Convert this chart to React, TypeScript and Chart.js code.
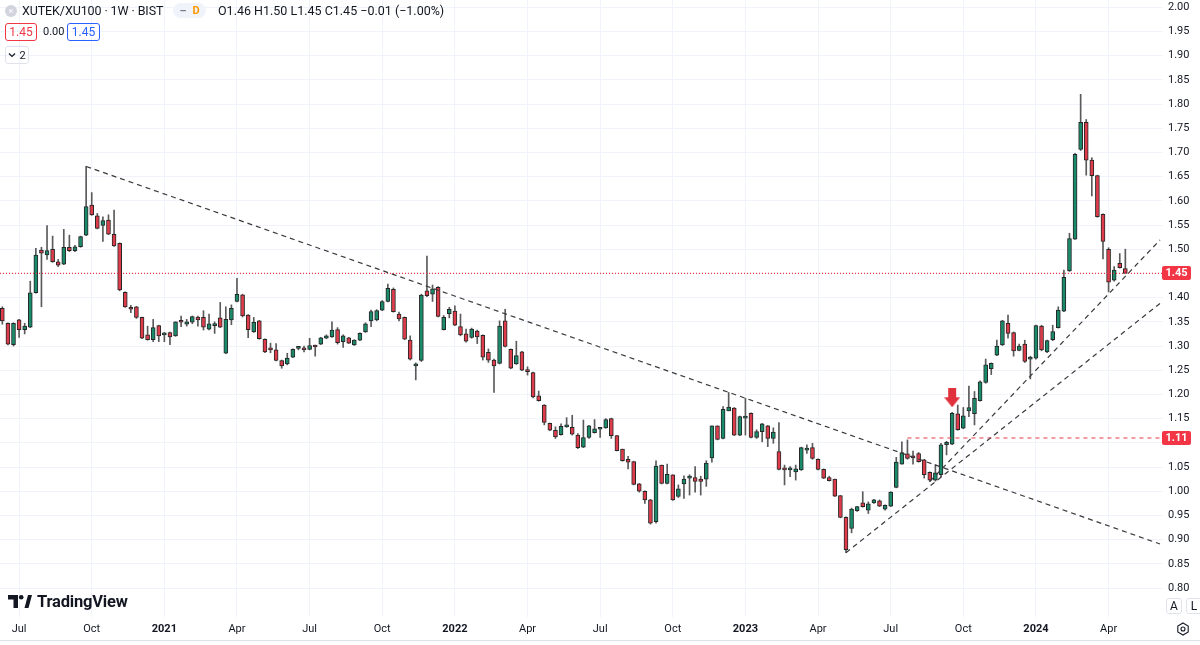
import React, { useEffect, useRef } from 'react';
import { Chart, registerables } from 'chart.js';

Chart.register(...registerables);

// ---- weekly candles (XUTEK/XU100, 1W), week index 1 = 15 Jun 2020 ----
const FIRST_WEEK = 1;
const OPEN = [
  1.378, 1.347, 1.303, 1.354, 1.334, 1.339, 1.410, 1.498, 1.488, 1.500,
  1.474, 1.469, 1.504, 1.497, 1.505, 1.529, 1.591, 1.569, 1.549, 1.560,
  1.531, 1.512, 1.411, 1.380, 1.381, 1.359, 1.323, 1.313, 1.342, 1.323,
  1.328, 1.321, 1.352, 1.345, 1.349, 1.360, 1.359, 1.335, 1.342, 1.358,
  1.285, 1.354, 1.392, 1.406, 1.364, 1.329, 1.352, 1.314, 1.294, 1.292,
  1.270, 1.263, 1.277, 1.295, 1.294, 1.293, 1.301, 1.304, 1.316, 1.319,
  1.334, 1.309, 1.317, 1.302, 1.312, 1.329, 1.352, 1.354, 1.374, 1.392,
  1.417, 1.366, 1.359, 1.312, 1.259, 1.270, 1.414, 1.407, 1.421, 1.334,
  1.367, 1.372, 1.340, 1.325, 1.318, 1.331, 1.322, 1.287, 1.271, 1.264,
  1.352, 1.293, 1.263, 1.288, 1.249, 1.245, 1.197, 1.178, 1.140, 1.126,
  1.117, 1.133, 1.132, 1.116, 1.091, 1.111, 1.121, 1.128, 1.131, 1.150,
  1.115, 1.087, 1.066, 1.061, 1.015, 1.000, 0.982, 0.937, 1.054, 1.016,
  1.034, 0.989, 1.015, 1.027, 1.028, 1.025, 1.025, 1.069, 1.135, 1.109,
  1.166, 1.172, 1.116, 1.151, 1.161, 1.111, 1.123, 1.135, 1.109, 1.082,
  1.047, 1.044, 1.040, 1.044, 1.085, 1.090, 1.066, 1.045, 1.028, 1.025,
  0.991, 0.946, 0.923, 0.960, 0.976, 0.961, 0.976, 0.980, 0.963, 0.969,
  1.008, 1.056, 1.077, 1.071, 1.078, 1.065, 1.039, 1.023, 1.034, 1.096,
  1.097, 1.160, 1.130, 1.166, 1.160, 1.187, 1.225, 1.253, 1.281, 1.302,
  1.347, 1.328, 1.291, 1.304, 1.273, 1.275, 1.341, 1.288, 1.313, 1.338,
  1.372, 1.455, 1.521, 1.706, 1.762, 1.684, 1.652, 1.572, 1.500, 1.436,
  1.471, 1.460,
];
const HIGH = [
  1.381, 1.348, 1.348, 1.355, 1.347, 1.434, 1.502, 1.504, 1.549, 1.527,
  1.479, 1.541, 1.529, 1.508, 1.527, 1.671, 1.617, 1.574, 1.567, 1.571,
  1.581, 1.513, 1.412, 1.384, 1.382, 1.360, 1.341, 1.355, 1.343, 1.328,
  1.329, 1.350, 1.362, 1.355, 1.362, 1.362, 1.373, 1.366, 1.350, 1.390,
  1.381, 1.385, 1.440, 1.407, 1.365, 1.359, 1.353, 1.315, 1.306, 1.305,
  1.271, 1.285, 1.294, 1.298, 1.300, 1.316, 1.302, 1.318, 1.323, 1.350,
  1.338, 1.323, 1.318, 1.313, 1.327, 1.348, 1.374, 1.375, 1.394, 1.428,
  1.420, 1.370, 1.360, 1.321, 1.265, 1.407, 1.486, 1.426, 1.423, 1.363,
  1.380, 1.383, 1.366, 1.335, 1.337, 1.333, 1.323, 1.294, 1.273, 1.352,
  1.376, 1.294, 1.310, 1.289, 1.257, 1.246, 1.207, 1.179, 1.141, 1.133,
  1.139, 1.152, 1.157, 1.119, 1.147, 1.136, 1.148, 1.131, 1.150, 1.151,
  1.115, 1.087, 1.072, 1.062, 1.016, 1.001, 0.983, 1.063, 1.054, 1.056,
  1.034, 1.013, 1.032, 1.034, 1.051, 1.031, 1.063, 1.135, 1.135, 1.175,
  1.204, 1.173, 1.155, 1.192, 1.162, 1.127, 1.140, 1.136, 1.131, 1.142,
  1.054, 1.051, 1.054, 1.091, 1.096, 1.099, 1.067, 1.046, 1.031, 1.025,
  0.991, 0.947, 0.965, 0.969, 0.999, 0.978, 0.983, 0.982, 0.972, 0.999,
  1.070, 1.102, 1.106, 1.083, 1.080, 1.066, 1.040, 1.055, 1.099, 1.103,
  1.163, 1.178, 1.173, 1.217, 1.206, 1.228, 1.273, 1.265, 1.312, 1.353,
  1.364, 1.329, 1.304, 1.312, 1.279, 1.343, 1.343, 1.312, 1.343, 1.381,
  1.457, 1.533, 1.698, 1.820, 1.768, 1.689, 1.653, 1.573, 1.503, 1.464,
  1.491, 1.500,
];
const LOW = [
  1.345, 1.302, 1.300, 1.318, 1.325, 1.338, 1.409, 1.381, 1.479, 1.473,
  1.464, 1.468, 1.495, 1.495, 1.504, 1.528, 1.570, 1.542, 1.516, 1.530,
  1.506, 1.414, 1.380, 1.369, 1.357, 1.315, 1.312, 1.309, 1.309, 1.309,
  1.303, 1.320, 1.340, 1.341, 1.346, 1.341, 1.333, 1.333, 1.326, 1.338,
  1.284, 1.344, 1.391, 1.360, 1.317, 1.328, 1.314, 1.286, 1.286, 1.269,
  1.254, 1.261, 1.276, 1.292, 1.288, 1.292, 1.279, 1.303, 1.315, 1.318,
  1.304, 1.297, 1.305, 1.301, 1.311, 1.328, 1.340, 1.352, 1.373, 1.391,
  1.370, 1.352, 1.313, 1.271, 1.230, 1.268, 1.402, 1.392, 1.360, 1.333,
  1.358, 1.342, 1.321, 1.308, 1.316, 1.305, 1.271, 1.266, 1.204, 1.263,
  1.298, 1.253, 1.262, 1.249, 1.240, 1.193, 1.186, 1.137, 1.125, 1.109,
  1.116, 1.132, 1.116, 1.088, 1.090, 1.109, 1.120, 1.111, 1.130, 1.109,
  1.083, 1.062, 1.046, 1.013, 0.998, 0.975, 0.932, 0.934, 1.015, 1.015,
  0.981, 0.987, 0.985, 0.992, 0.998, 0.992, 1.010, 1.060, 1.106, 1.108,
  1.166, 1.115, 1.115, 1.116, 1.110, 1.109, 1.102, 1.092, 1.099, 1.044,
  1.013, 1.030, 1.023, 1.043, 1.078, 1.066, 1.044, 1.026, 1.021, 0.989,
  0.945, 0.873, 0.914, 0.958, 0.967, 0.954, 0.975, 0.968, 0.961, 0.968,
  1.007, 1.056, 1.066, 1.056, 1.060, 1.027, 1.020, 1.021, 1.030, 1.075,
  1.096, 1.126, 1.129, 1.154, 1.137, 1.186, 1.223, 1.241, 1.280, 1.301,
  1.316, 1.279, 1.290, 1.266, 1.232, 1.273, 1.290, 1.286, 1.311, 1.337,
  1.371, 1.454, 1.520, 1.704, 1.653, 1.610, 1.566, 1.480, 1.412, 1.434,
  1.461, 1.450,
];
const CLOSE = [
  1.352, 1.304, 1.347, 1.334, 1.341, 1.410, 1.488, 1.492, 1.497, 1.474,
  1.467, 1.504, 1.497, 1.505, 1.526, 1.588, 1.571, 1.543, 1.559, 1.531,
  1.507, 1.416, 1.381, 1.376, 1.359, 1.316, 1.313, 1.338, 1.321, 1.327,
  1.319, 1.350, 1.349, 1.350, 1.361, 1.354, 1.339, 1.346, 1.343, 1.339,
  1.355, 1.378, 1.407, 1.362, 1.334, 1.349, 1.315, 1.288, 1.292, 1.270,
  1.259, 1.275, 1.293, 1.297, 1.292, 1.301, 1.298, 1.317, 1.321, 1.333,
  1.307, 1.321, 1.306, 1.312, 1.326, 1.346, 1.371, 1.373, 1.392, 1.419,
  1.371, 1.356, 1.314, 1.273, 1.263, 1.405, 1.404, 1.418, 1.361, 1.359,
  1.376, 1.343, 1.323, 1.310, 1.335, 1.319, 1.277, 1.271, 1.259, 1.341,
  1.299, 1.254, 1.280, 1.250, 1.247, 1.195, 1.187, 1.142, 1.126, 1.112,
  1.134, 1.135, 1.118, 1.090, 1.111, 1.135, 1.129, 1.130, 1.148, 1.115,
  1.084, 1.063, 1.060, 1.014, 1.000, 0.982, 0.934, 1.052, 1.016, 1.035,
  0.982, 1.005, 1.025, 1.028, 1.020, 1.020, 1.058, 1.135, 1.107, 1.169,
  1.174, 1.116, 1.154, 1.153, 1.111, 1.123, 1.139, 1.109, 1.122, 1.045,
  1.044, 1.046, 1.046, 1.090, 1.089, 1.068, 1.045, 1.027, 1.022, 0.990,
  0.946, 0.879, 0.963, 0.968, 0.968, 0.974, 0.982, 0.969, 0.971, 0.998,
  1.060, 1.080, 1.068, 1.069, 1.061, 1.034, 1.023, 1.038, 1.096, 1.101,
  1.161, 1.127, 1.156, 1.173, 1.192, 1.226, 1.261, 1.264, 1.300, 1.352,
  1.326, 1.290, 1.300, 1.268, 1.277, 1.342, 1.292, 1.311, 1.330, 1.374,
  1.442, 1.522, 1.696, 1.762, 1.684, 1.652, 1.567, 1.516, 1.432, 1.457,
  1.462, 1.450,
];

// ---- axes ----
const X_TICK_WEEKS = [4, 17, 30, 43, 56, 69, 82, 95, 108, 121, 134, 147, 160, 173, 186, 199];
const X_TICK_LABELS = ['Jul', 'Oct', '2021', 'Apr', 'Jul', 'Oct', '2022', 'Apr', 'Jul', 'Oct', '2023', 'Apr', 'Jul', 'Oct', '2024', 'Apr'];
const Y_TICKS = [
  0.8, 0.85, 0.9, 0.95, 1.0, 1.05, 1.1, 1.15, 1.2, 1.25, 1.3, 1.35, 1.4,
  1.45, 1.5, 1.55, 1.6, 1.65, 1.7, 1.75, 1.8, 1.85, 1.9, 1.95, 2.0,
];
const X_MIN = 0.583;
const X_MAX = 208.74;
const Y_MIN = 0.7401;
const Y_MAX = 2.0149;

// ---- drawings ----
const LAST_PRICE = 1.45;
const LEVEL_PRICE = 1.11;
const LEVEL_START_WEEK = 163;
const TREND_DOWN = [{ x: 16, y: 1.671 }, { x: 208.2, y: 0.891 }];
const TREND_UP_STEEP = [{ x: 167, y: 1.02 }, { x: 208.2, y: 1.519 }];
const TREND_UP_SLOW = [{ x: 152, y: 0.873 }, { x: 208.2, y: 1.388 }];
const ARROW_POINT = [{ x: 171, y: 1.193 }];

// ---- styles ----
const UP = '#1a8a6b';
const DOWN = '#de3c4b';
const CANDLE_BORDER = '#262626';
const WICK = '#5a5a5a';
const RED = '#f23645';
const GRID = '#f0f3fa';
const TEXT = '#131722';
const FONT = "Roboto, 'Liberation Sans', Arial, sans-serif";

function makeArrow(): HTMLCanvasElement {
  const c = document.createElement('canvas');
  c.width = 16;
  c.height = 19;
  const g = c.getContext('2d')!;
  g.fillStyle = '#e0323c';
  g.fillRect(4, 0, 8, 10);
  g.beginPath();
  g.moveTo(0, 9);
  g.lineTo(16, 9);
  g.lineTo(8, 19);
  g.closePath();
  g.fill();
  return c;
}

const priceLabels = {
  id: 'priceLabels',
  afterDraw(chart: any) {
    const { ctx, chartArea, scales } = chart;
    const y = scales.y;
    [LAST_PRICE, LEVEL_PRICE].forEach((v) => {
      const py = Math.round(y.getPixelForValue(v));
      ctx.save();
      ctx.fillStyle = RED;
      ctx.beginPath();
      const x0 = chartArea.right - 1;
      (ctx as any).roundRect ? (ctx as any).roundRect(x0, py - 7, 29, 14, 2) : ctx.rect(x0, py - 7, 29, 14);
      ctx.fill();
      ctx.fillStyle = '#ffffff';
      ctx.font = `bold 11px ${FONT}`;
      ctx.textBaseline = 'middle';
      ctx.textAlign = 'center';
      ctx.fillText(v.toFixed(2), x0 + 14.5, py + 0.5);
      ctx.restore();
    });
  },
};

function CandleChart() {
  const ref = useRef<HTMLCanvasElement | null>(null);
  useEffect(() => {
    if (!ref.current) return;
    const weeks = OPEN.map((_, i) => FIRST_WEEK + i);
    const arrow = makeArrow();
    const chart = new Chart(ref.current, {
      type: 'bar',
      data: {
        datasets: [
          {
            type: 'bar',
            data: weeks.map((w, i) => ({ x: w, y: [LOW[i], HIGH[i]] })) as any,
            backgroundColor: WICK,
            borderWidth: 0,
            barThickness: 1,
            grouped: false,
            order: 5,
          } as any,
          {
            type: 'bar',
            data: weeks.map((w, i) => ({ x: w, y: [OPEN[i], CLOSE[i]] })) as any,
            backgroundColor: weeks.map((_, i) => (CLOSE[i] >= OPEN[i] ? UP : DOWN)),
            borderColor: CANDLE_BORDER,
            borderWidth: 1,
            borderSkipped: false,
            barThickness: 4,
            minBarLength: 2,
            grouped: false,
            order: 4,
          } as any,
          {
            type: 'line',
            data: [{ x: X_MIN, y: LAST_PRICE }, { x: X_MAX, y: LAST_PRICE }],
            borderColor: RED,
            backgroundColor: RED,
            borderWidth: 1.2,
            borderDash: [1, 2],
            pointRadius: 0,
            fill: false,
            order: 3,
          } as any,
          {
            type: 'line',
            data: [{ x: LEVEL_START_WEEK, y: LEVEL_PRICE }, { x: X_MAX, y: LEVEL_PRICE }],
            borderColor: RED,
            backgroundColor: RED,
            borderWidth: 1,
            borderDash: [4, 4],
            pointRadius: 0,
            fill: false,
            order: 3,
          } as any,
          ...[TREND_DOWN, TREND_UP_STEEP, TREND_UP_SLOW].map((pts) => ({
            type: 'line',
            data: pts,
            borderColor: '#3a3a3a',
            borderWidth: 1.2,
            borderDash: [5, 4],
            pointRadius: 0,
            fill: false,
            order: 2,
          })) as any,
          {
            type: 'scatter',
            data: ARROW_POINT,
            pointStyle: arrow,
            pointRadius: 8,
            order: 1,
          } as any,
        ],
      },
      options: {
        animation: false,
        responsive: false,
        maintainAspectRatio: false,
        layout: { padding: 0, autoPadding: false },
        plugins: { legend: { display: false }, tooltip: { enabled: false } },
        scales: {
          x: {
            type: 'linear',
            min: X_MIN,
            max: X_MAX,
            offset: false,
            grid: { color: GRID, drawTicks: false, offset: false },
            border: { display: false },
            afterBuildTicks: (s: any) => {
              s.ticks = X_TICK_WEEKS.map((v) => ({ value: v }));
            },
            afterFit: (s: any) => {
              s.height = 28;
              s.paddingLeft = 0;
              s.paddingRight = 0;
              s.paddingTop = 0;
              s.paddingBottom = 0;
            },
            ticks: {
              autoSkip: false,
              maxRotation: 0,
              minRotation: 0,
              padding: 6,
              color: TEXT,
              font: (c: any) => ({
                family: FONT,
                size: 11,
                weight: /^\d{4}$/.test(X_TICK_LABELS[c.index] || '') ? 'bold' : 'normal',
              }),
              callback: (_v: any, i: number) => X_TICK_LABELS[i],
            },
          } as any,
          y: {
            type: 'linear',
            position: 'right',
            min: Y_MIN,
            max: Y_MAX,
            grid: { color: GRID, drawTicks: false },
            border: { display: false },
            afterBuildTicks: (s: any) => {
              s.ticks = Y_TICKS.map((v) => ({ value: v }));
            },
            afterFit: (s: any) => {
              s.width = 37;
              s.paddingLeft = 0;
              s.paddingRight = 0;
              s.paddingTop = 0;
              s.paddingBottom = 0;
            },
            ticks: {
              padding: 5,
              color: TEXT,
              font: { family: FONT, size: 11 },
              callback: (v: any) => {
                const n = Number(v);
                if (Math.abs(n - LAST_PRICE) < 0.02 || Math.abs(n - LEVEL_PRICE) < 0.02) return '';
                return n.toFixed(2);
              },
            },
          } as any,
        },
      },
      plugins: [priceLabels],
    });
    return () => chart.destroy();
  }, []);
  return <canvas ref={ref} width={1200} height={645} style={{ position: 'absolute', left: 0, top: 0 }} />;
}

const box = (extra: React.CSSProperties): React.CSSProperties => ({
  position: 'absolute',
  boxSizing: 'border-box',
  borderRadius: 3,
  display: 'flex',
  alignItems: 'center',
  justifyContent: 'center',
  fontSize: 12,
  ...extra,
});

export default function App() {
  useEffect(() => {
    document.body.style.margin = '0';
  }, []);
  return (
    <div
      style={{
        position: 'absolute',
        left: 0,
        top: 0,
        width: 1200,
        height: 645,
        overflow: 'hidden',
        background: '#ffffff',
        fontFamily: FONT,
        color: TEXT,
      }}
    >
      <CandleChart />
      {/* header legend */}
      <div style={box({ left: 5, top: 5, width: 12, height: 12, borderRadius: 6, background: '#d1d4dc', color: '#fff', fontSize: 9 })}>×</div>
      <div style={{ position: 'absolute', left: 22, top: 3, fontSize: 12.5, lineHeight: '16px', whiteSpace: 'nowrap', letterSpacing: -0.1 }}>
        XUTEK/XU100 · 1W · BIST
      </div>
      <div style={box({ left: 173, top: 3, width: 33, height: 15, borderRadius: 8, background: '#f0f3fa', fontSize: 11, gap: 6 })}>
        <span style={{ color: '#787b86', fontWeight: 'bold' }}>–</span>
        <span style={{ color: '#ff9800', fontWeight: 'bold' }}>D</span>
      </div>
      <div style={{ position: 'absolute', left: 218, top: 3, fontSize: 12.5, lineHeight: '16px', whiteSpace: 'nowrap' }}>
        O1.46 H1.50 L1.45 C1.45 −0.01 (−1.00%)
      </div>
      <div style={box({ left: 5, top: 23, width: 32, height: 18, border: `1px solid ${RED}`, color: RED })}>1.45</div>
      <div style={{ position: 'absolute', left: 43, top: 25, fontSize: 11, lineHeight: '14px' }}>0.00</div>
      <div style={box({ left: 67, top: 23, width: 33, height: 18, border: '1px solid #2962ff', color: '#2962ff' })}>1.45</div>
      <div style={box({ left: 5, top: 46, width: 24, height: 18, border: '1px solid #e0e3eb', fontSize: 11, gap: 3 })}>
        <svg width="8" height="6" viewBox="0 0 8 6">
          <path d="M1 1.5 L4 4.5 L7 1.5" fill="none" stroke={TEXT} strokeWidth="1.2" />
        </svg>
        <span>2</span>
      </div>
      {/* TradingView logo */}
      <div style={{ position: 'absolute', left: 8, top: 592, display: 'flex', alignItems: 'center', gap: 5 }}>
        <svg width="24" height="15" viewBox="0 0 24 15">
          <path d="M0 1 H10 V14 H5.5 V5.5 H0 Z" fill={TEXT} />
          <circle cx="13.2" cy="3.3" r="2.3" fill={TEXT} />
          <path d="M16.5 14 L20 1 H24 L20.5 14 Z" fill={TEXT} />
        </svg>
        <span style={{ fontSize: 16.5, fontWeight: 'bold', letterSpacing: -0.2 }}>TradingView</span>
      </div>
      {/* bottom right controls */}
      <div style={box({ left: 1166, top: 598, width: 16, height: 16, border: '1px solid #e0e3eb', fontSize: 12 })}>A</div>
      <div style={box({ left: 1186, top: 598, width: 16, height: 16, border: '1px solid #e0e3eb', fontSize: 12 })}>L</div>
      <svg style={{ position: 'absolute', left: 1176, top: 622 }} width="14" height="14" viewBox="0 0 14 14">
        <path d="M7 1 L12.2 4 V10 L7 13 L1.8 10 V4 Z" fill="none" stroke={TEXT} strokeWidth="1.1" />
        <circle cx="7" cy="7" r="2" fill="none" stroke={TEXT} strokeWidth="1.1" />
      </svg>
      <div style={{ position: 'absolute', left: 0, top: 640, width: 1200, height: 1, background: '#e0e3eb' }} />
    </div>
  );
}
